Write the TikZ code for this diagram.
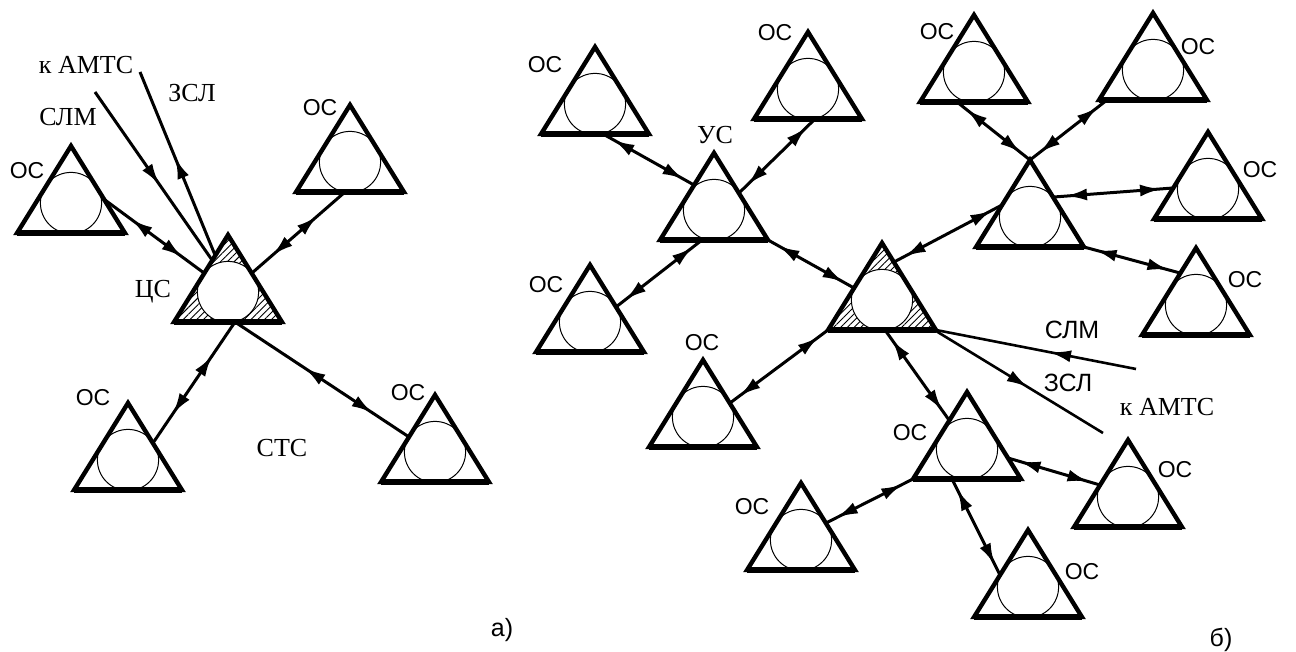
\documentclass[tikz,border=0pt]{standalone}
\usepackage{fontspec}
\setmainfont{Liberation Serif}
\newfontfamily\arialf{Liberation Sans}
\usetikzlibrary{shapes.geometric,calc,decorations.markings,arrows.meta,patterns.meta}
\begin{document}
\begin{tikzpicture}[x=0.5pt,y=-0.5pt,
  >={Latex[length=10.5pt,width=6pt]},
  tri/.style={isosceles triangle, isosceles triangle apex angle=63.6,
    shape border rotate=90, minimum width=43.5pt, minimum height=43.5pt,
    inner sep=0pt, outer sep=0pt, draw, line width=2.2pt, anchor=apex,
    path picture={\draw[line width=0.5pt] ([yshift=15pt]path picture bounding box.south) circle[radius=15.3pt];}},
  hub/.style={tri,
    path picture={\fill[pattern={Lines[angle=45,distance=2.4pt,line width=0.45pt]}]
        (path picture bounding box.south west) rectangle (path picture bounding box.north east);
      \filldraw[fill=white,line width=0.5pt] ([yshift=15pt]path picture bounding box.south) circle[radius=15.3pt];}},
  basel/.style={line width=3pt},
  conn/.style={line width=1.5pt},
  dbl/.style 2 args={conn, postaction={decorate}, decoration={markings,
    mark=at position #1 with {\arrowreversed{>}},
    mark=at position #2 with {\arrow{>}}}},
  dbl/.default={6pt}{-6pt},
  one/.style={conn, postaction={decorate}, decoration={markings,
    mark=at position #1 with {\arrow{>}}}},
  oneback/.style={conn, postaction={decorate}, decoration={markings,
    mark=at position #1 with {\arrowreversed{>}}}},
  os/.style={font=\arialf\fontsize{11.5}{12}\selectfont, inner sep=0pt},
  sos/.style={font=\arialf\fontsize{12.5}{13}\selectfont, inner sep=0pt},
  lb/.style={font=\fontsize{13}{14}\selectfont, inner sep=0pt}
]
\useasboundingbox (0,0) rectangle (1296,652);

% ---------- (a) ----------
\node[tri] (L1) at (71,146) {};
\node[tri] (L2) at (350,105) {};
\node[hub] (L3) at (228,235) {};
\node[tri] (L4) at (128,403) {};
\node[tri] (L5) at (435,395) {};

% ---------- (b) ----------
\node[tri] (R1) at (595,47) {};
\node[tri] (R2) at (808,32) {};
\node[tri] (R3) at (714,153) {};
\node[tri] (R4) at (590,265) {};
\node[hub] (R5) at (882,243) {};
\node[tri] (R6) at (703,360) {};
\node[tri] (R7) at (967,392) {};
\node[tri] (R8) at (801,483) {};
\node[tri] (R9) at (1028,530) {};
\node[tri] (R10) at (1128,440) {};
\node[tri] (R11) at (974,15) {};
\node[tri] (R12) at (1153,13) {};
\node[tri] (R13) at (1030,160) {};
\node[tri] (R14) at (1208,132) {};
\node[tri] (R15) at (1196,248) {};

\foreach \n in {L1,L2,L3,L4,L5,R1,R2,R3,R4,R5,R6,R7,R8,R9,R10,R11,R12,R13,R14,R15}
  \draw[basel] ($(\n.apex)+(-54,87)$) -- ($(\n.apex)+(54,87)$);

% connectors (a)
\draw[dbl={0.27}{0.78}] ($(L1.apex)+(34,54)$) -- ($(L3.apex)+(-24,38)$);
\draw[dbl={0.3}{0.78}] ($(L2.apex)+(-5,87)$) -- ($(L3.apex)+(24,38)$);
\draw[dbl={0.28}{0.76}] ($(L3.apex)+(7,87)$) -- ($(L4.apex)+(25,40)$);
\draw[dbl={0.4}{0.79}] ($(L3.apex)+(7,87)$) -- ($(L5.apex)+(-26,42)$);
\coordinate (slmL) at (95,92);
\coordinate (zslL) at (140,72);
\draw[one={0.55}] (slmL) -- ($(L3.apex)+(-16,25)$);
\draw[oneback={0.47}] (zslL) -- ($(L3.apex)+(-13,20)$);

% connectors (b)
\draw[dbl] ($(R1.apex)+(8,87)$) -- ($(R3.apex)+(-20,32)$);
\draw[dbl] ($(R2.apex)+(7,87)$) -- ($(R3.apex)+(25,40)$);
\draw[dbl] ($(R3.apex)+(-12,87)$) -- ($(R4.apex)+(26,42)$);
\draw[dbl] ($(R3.apex)+(54,87)$) -- ($(R5.apex)+(-28,45)$);
\draw[dbl] ($(R5.apex)+(12,19)$) -- ($(R13.apex)+(-28,45)$);
\draw[dbl] ($(R5.apex)+(-54,87)$) -- ($(R6.apex)+(27,43)$);
\draw[dbl] ($(R5.apex)+(3,87)$) -- ($(R7.apex)+(-18,28)$);
\draw[dbl] ($(R7.apex)+(-54,87)$) -- ($(R8.apex)+(25,40)$);
\draw[dbl] ($(R7.apex)+(-15,87)$) -- ($(R9.apex)+(-28,45)$);
\draw[dbl] ($(R7.apex)+(41,66)$) -- ($(R10.apex)+(-28,45)$);
\draw[dbl] (R13.apex) -- ($(R11.apex)+(-17,87)$);
\draw[dbl] (R13.apex) -- ($(R12.apex)+(-46,87)$);
\draw[dbl] ($(R13.apex)+(24,37)$) -- ($(R14.apex)+(-35,56)$);
\draw[dbl] ($(R13.apex)+(54,87)$) -- ($(R15.apex)+(-16,25)$);
\coordinate (slmR) at (1136,369);
\coordinate (zslR) at (1103,433);
\draw[one={0.43}, line width=1.3pt] (slmR) -- ($(R5.apex)+(54,87)$);
\draw[one={0.55}, line width=1.3pt] ($(R5.apex)+(54,88)$) -- (zslR);

% labels (a)
\node[lb] (tA1) at (86,65) {к АМТС};
\node[lb] (tA2) at (192,93) {ЗСЛ};
\node[lb] (tA3) at (68,117) {СЛМ};
\node[os] (tA4) at (27,171) {ОС};
\node[os] (tA5) at (320,108) {ОС};
\node[lb] (tA6) at (153,292) {ЦС};
\node[os] (tA7) at (93,398) {ОС};
\node[os] (tA8) at (408,393) {ОС};
\node[lb] (tA9) at (282,448) {СТС};
\node[sos] (tA10) at (502,630) {а)};

% labels (b)
\node[os] (tB1) at (545,65) {ОС};
\node[os] (tB2) at (775,33) {ОС};
\node[lb] (tB3) at (715,135) {УС};
\node[os] (tB4) at (546,285) {ОС};
\node[os] (tB5) at (702,343) {ОС};
\node[os] (tB6) at (910,433) {ОС};
\node[os] (tB7) at (752,507) {ОС};
\node[os] (tB8) at (1082,572) {ОС};
\node[os] (tB9) at (1175,470) {ОС};
\node[os] (tB10) at (937,32) {ОС};
\node[os] (tB11) at (1198,47) {ОС};
\node[os] (tB12) at (1260,170) {ОС};
\node[os] (tB13) at (1245,280) {ОС};
\node[sos] (tB14) at (1072,330) {СЛМ};
\node[sos] (tB15) at (1068,383) {ЗСЛ};
\node[lb] (tB16) at (1167,407) {к АМТС};
\node[sos] (tB17) at (1221,640) {б)};
\end{tikzpicture}
\end{document}
